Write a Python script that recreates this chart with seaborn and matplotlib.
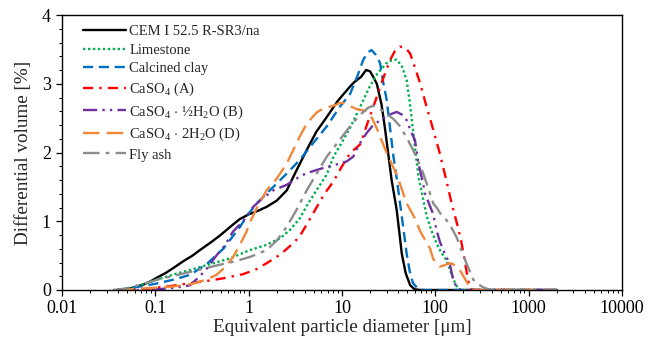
import numpy as np
import pandas as pd
import matplotlib
matplotlib.use("Agg")
import matplotlib.pyplot as plt
from matplotlib.ticker import FixedLocator, MultipleLocator, NullFormatter, FixedFormatter
import seaborn as sns

# ---------------- data ----------------
labels = [
    "CEM I 52.5 R-SR3/na",
    "Limestone",
    "Calcined clay",
    r"CaSO$_\mathregular{4}$ (A)",
    r"CaSO$_\mathregular{4}$$\,\cdot\,$½H$_\mathregular{2}$O (B)",
    r"CaSO$_\mathregular{4}$$\,\cdot\,$2H$_\mathregular{2}$O (D)",
    "Fly ash",
]

cem_d = [0.039, 0.05, 0.06, 0.075, 0.09, 0.104, 0.13, 0.16, 0.2, 0.25, 0.3, 0.4, 0.5, 0.65, 0.8, 1.0, 1.25,
         1.56, 2.0, 2.56, 3.2, 4.2, 5.3, 6.9, 9.0, 12.2, 13.7, 16.0, 18.1, 20.0, 21.6, 23.6, 26.5, 29.0,
         31.5, 34.0, 38.6, 43.7, 48.0, 53.7, 60.0, 70.0, 2000]
cem_v = [0, 0.01, 0.04, 0.08, 0.13, 0.18, 0.25, 0.33, 0.42, 0.5, 0.58, 0.7, 0.8, 0.93, 1.03, 1.1, 1.15,
         1.21, 1.3, 1.45, 1.72, 2.04, 2.3, 2.52, 2.75, 2.96, 3.03, 3.1, 3.2, 3.18, 3.1, 3.0, 2.7, 2.33,
         1.95, 1.6, 1.16, 0.53, 0.25, 0.07, 0.01, 0, 0]

lime_d = [0.039, 0.063, 0.08, 0.104, 0.17, 0.25, 0.35, 0.5, 0.63, 1.03, 1.5, 2.17, 2.8, 3.52, 4.3, 5.33,
          6.87, 8.1, 10, 12.2, 15.5, 19.8, 24, 30, 34, 38.6, 44, 49.3, 53, 57.6, 62, 66, 72, 81, 90, 103,
          115, 131, 143, 153, 165, 176, 190, 2000]
lime_v = [0, 0.05, 0.1, 0.15, 0.24, 0.3, 0.36, 0.42, 0.46, 0.58, 0.65, 0.75, 0.88, 1.04, 1.25, 1.45,
          1.68, 1.94, 2.15, 2.36, 2.65, 2.96, 3.15, 3.3, 3.34, 3.35, 3.25, 3.05, 2.75, 2.33, 1.95, 1.65,
          1.4, 1.07, 0.88, 0.68, 0.55, 0.44, 0.3, 0.19, 0.08, 0.02, 0, 0]

clay_d = [0.039, 0.068, 0.1, 0.156, 0.235, 0.35, 0.535, 0.81, 0.95, 1.2, 1.69, 2.5, 3.52, 5.0, 6.87, 9.55,
          12.2, 14.5, 16.9, 19.0, 20.8, 23.0, 25.6, 27.8, 30.0, 32.9, 35.5, 38.6, 43.7, 49.3, 53.0, 57.6,
          65.0, 75.0, 2000]
clay_v = [0, 0.05, 0.09, 0.15, 0.22, 0.37, 0.6, 0.92, 1.07, 1.25, 1.45, 1.68, 1.89, 2.15, 2.38, 2.67,
          2.85, 3.1, 3.35, 3.46, 3.49, 3.42, 3.3, 3.0, 2.78, 2.33, 1.95, 1.62, 1.07, 0.53, 0.28, 0.1,
          0.02, 0, 0]

csa_d = [0.039, 0.07, 0.095, 0.15, 0.235, 0.35, 0.535, 0.68, 0.87, 1.2, 1.56, 2.2, 3.0, 3.52, 4.3, 5.33,
         6.5, 8.1, 10, 12.2, 15.7, 19, 23.6, 28, 32.9, 37, 42, 48, 53.7, 60, 69, 80, 95, 110, 121, 131,
         150, 176, 190, 209, 220, 232, 250, 2000]
csa_v = [0, 0, 0.03, 0.06, 0.1, 0.13, 0.17, 0.2, 0.23, 0.3, 0.39, 0.52, 0.68, 0.78, 0.98, 1.2,
         1.4, 1.58, 1.8, 1.99, 2.12, 2.45, 2.81, 3.1, 3.35, 3.48, 3.54, 3.52, 3.44, 3.25, 3.0, 2.68,
         2.33, 2.02, 1.79, 1.6, 1.25, 0.9, 0.7, 0.39, 0.2, 0.05, 0, 0]

csb_d = [0.039, 0.08, 0.13, 0.2, 0.235, 0.3, 0.36, 0.45, 0.55, 0.68, 0.87, 1.12, 1.4, 1.84, 2.56, 3.52,
         4.19, 5.8, 6.87, 9.55, 11.2, 13.2, 15, 18.3, 21, 25.6, 32, 38.6, 44, 49.3, 55, 60.5, 66, 74, 77,
         86, 95, 103, 112, 126, 143, 153, 165, 175, 185, 2000]
csb_v = [0, 0, 0.02, 0.05, 0.07, 0.2, 0.32, 0.5, 0.64, 0.85, 1.0, 1.21, 1.33, 1.45, 1.53, 1.65,
         1.7, 1.76, 1.79, 1.84, 1.87, 1.94, 2.1, 2.28, 2.38, 2.47, 2.55, 2.59, 2.55, 2.47, 2.3, 2.18, 1.84,
         1.55, 1.41, 1.25, 1.1, 0.87, 0.7, 0.53, 0.38, 0.19, 0.07, 0.02, 0, 0]

csd_d = [0.039, 0.068, 0.156, 0.25, 0.35, 0.45, 0.55, 0.68, 0.8, 0.95, 1.03, 1.25, 1.56, 2.0, 2.56,
         3.52, 4.19, 5.33, 6.3, 8.1, 9.55, 10.4, 12, 14.4, 18.3, 21, 23.6, 25.6, 30, 35, 38.6, 49.3, 60,
         69, 88, 95, 112, 125, 143, 153, 183, 200, 232, 245, 2000]
csd_v = [0, 0.02, 0.05, 0.09, 0.15, 0.22, 0.32, 0.48, 0.65, 0.85, 0.98, 1.22, 1.45, 1.62, 1.84,
         2.23, 2.42, 2.58, 2.64, 2.68, 2.72, 2.72, 2.68, 2.63, 2.6, 2.5, 2.35, 2.23, 2.0, 1.8, 1.68, 1.26,
         1.05, 0.85, 0.6, 0.45, 0.34, 0.36, 0.39, 0.38, 0.29, 0.2, 0.05, 0, 0]

fly_d = [0.035, 0.045, 0.058, 0.08, 0.104, 0.15, 0.2, 0.35, 0.5, 0.68, 1.03, 1.56, 2.0, 2.56, 3.3,
         4.19, 5.5, 6.87, 8.8, 12.2, 14.5, 16.9, 19, 21.6, 25, 30, 36, 42, 50, 57.6, 66, 74, 84, 95, 103,
         115, 131, 150, 170, 200, 215, 255, 290, 325, 370, 420, 2000]
fly_v = [0, 0.01, 0.05, 0.1, 0.15, 0.2, 0.24, 0.32, 0.37, 0.41, 0.48, 0.58, 0.72, 0.92, 1.18,
         1.45, 1.72, 1.94, 2.13, 2.38, 2.5, 2.59, 2.65, 2.68, 2.64, 2.57, 2.48, 2.38, 2.2, 2.04, 1.86,
         1.7, 1.48, 1.26, 1.2, 1.1, 1.02, 0.9, 0.76, 0.5, 0.39, 0.15, 0.08, 0.04, 0.01, 0, 0]

x_ticks = [0.01, 0.1, 1, 10, 100, 1000, 10000]
x_ticklabels = ["0.01", "0.1", "1", "10", "100", "1000", "10000"]
y_ticks = [0, 1, 2, 3, 4]

series = [
    (labels[0], cem_d, cem_v),
    (labels[1], lime_d, lime_v),
    (labels[2], clay_d, clay_v),
    (labels[3], csa_d, csa_v),
    (labels[4], csb_d, csb_v),
    (labels[5], csd_d, csd_v),
    (labels[6], fly_d, fly_v),
]

colors = ["#000000", "#00b050", "#0070c0", "#ff0000", "#7030a0", "#f0883a", "#8c8c8c"]
dashes = ["", (1, 1.1), (4.3, 2.4), (4.3, 2.6, 1, 2.6), (6, 2.2, 1, 2.2, 1, 2.2), (7, 3), (7, 2.6, 1.6, 2.6)]

# ---------------- plotting ----------------
sns.set_theme(style="white")
plt.rcParams["font.family"] = ["Liberation Serif", "DejaVu Serif"]
plt.rcParams["mathtext.fontset"] = "custom"
plt.rcParams["mathtext.rm"] = "Liberation Serif"
plt.rcParams["mathtext.it"] = "Liberation Serif:italic"

fig = plt.figure(figsize=(6.56, 3.4), dpi=100)
ax = fig.add_axes([62 / 656, 50 / 340, 560 / 656, 275 / 340])

frames = []
for name, d, v in series:
    frames.append(pd.DataFrame({"d": d, "v": v, "series": name}))
df = pd.concat(frames, ignore_index=True)

sns.lineplot(data=df, x="d", y="v", hue="series", style="series",
             hue_order=labels, style_order=labels,
             palette=dict(zip(labels, colors)), dashes=dict(zip(labels, dashes)),
             sort=False, estimator=None, linewidth=1.7, ax=ax)

ax.set_xscale("log")
ax.set_xlim(0.01, 10000)
ax.set_ylim(0, 4)
ax.xaxis.set_major_locator(FixedLocator(x_ticks))
ax.xaxis.set_major_formatter(FixedFormatter(x_ticklabels))
ax.xaxis.set_minor_locator(matplotlib.ticker.LogLocator(base=10, subs=np.arange(2, 10), numticks=50))
ax.xaxis.set_minor_formatter(NullFormatter())
ax.yaxis.set_major_locator(FixedLocator(y_ticks))
ax.yaxis.set_minor_locator(MultipleLocator(0.2))

ax.tick_params(which="major", direction="out", length=4, width=0.9, colors="black",
               labelsize=13, bottom=True, left=True)
ax.tick_params(axis="x", which="major", pad=3.5)
ax.tick_params(axis="y", which="major", pad=4)
ax.tick_params(which="minor", direction="out", length=2.5, width=0.7, colors="black",
               bottom=True, left=True)
for s in ax.spines.values():
    s.set_color("black")
    s.set_linewidth(1.0)

ax.set_xlabel("Equivalent particle diameter [μm]", fontsize=13.8, labelpad=1.5)
ax.set_ylabel("Differential volume [%]", fontsize=13.8, labelpad=7)

leg = ax.legend(loc="upper left", bbox_to_anchor=(0.02, 1.0), frameon=False, fontsize=10.5,
                handlelength=2.9, handletextpad=0.25, labelspacing=0.36, borderaxespad=0.3)

fig.savefig("out.png", dpi=100)
